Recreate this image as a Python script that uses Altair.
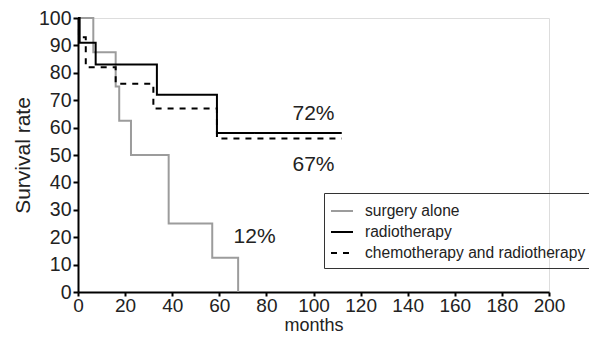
import altair as alt
import pandas as pd

groups = ["surgery alone", "radiotherapy", "chemotherapy and radiotherapy"]

surgery_t = [0, 6.5, 16, 17.5, 22.5, 38.5, 57, 68, 68]
surgery_v = [100, 87.5, 75, 62.5, 50, 25, 12.5, 12.5, 0]

radio_t = [0, 0.7, 7.5, 33.5, 59, 112]
radio_v = [100, 91, 83, 72, 58, 58]

chemo_t = [0, 0.4, 3.3, 16, 32, 59, 112]
chemo_v = [100, 93, 82, 76, 67, 56, 56]

label_text = ["72%", "67%", "12%"]
label_x = [100, 100, 75]
label_y = [65, 46.5, 20]

x_ticks = list(range(0, 201, 20))
y_ticks = list(range(0, 101, 10))

rows = []
for g, ts, vs in zip(groups, [surgery_t, radio_t, chemo_t], [surgery_v, radio_v, chemo_v]):
    for i, (t, v) in enumerate(zip(ts, vs)):
        rows.append({"group": g, "months": t, "rate": v, "idx": i})
df = pd.DataFrame(rows)
lab = pd.DataFrame({"text": label_text, "x": label_x, "y": label_y})

FONT = "Liberation Sans"

xscale = alt.Scale(domain=[0, 200], nice=False, zero=False)
yscale = alt.Scale(domain=[0, 100], nice=False)

x_axis = alt.Axis(title="months", values=x_ticks, grid=False,
                  domainColor="black", domainWidth=2, tickColor="black", tickWidth=2,
                  tickSize=4, labelFontSize=19, labelFont=FONT, labelColor="#222",
                  titleFont=FONT, titleFontSize=18, titleFontWeight="normal",
                  titleColor="#222", labelPadding=0, titlePadding=1,
                  labelFlush=False, labelOverlap=False)
y_axis = alt.Axis(title="Survival rate", values=y_ticks, grid=False,
                  domainColor="black", domainWidth=2, tickColor="black", tickWidth=2,
                  tickSize=5, labelFontSize=19.5, labelFont=FONT, labelColor="#222",
                  titleFont=FONT, titleFontSize=21, titleFontWeight="normal",
                  titleColor="#222", labelPadding=2, titlePadding=5,
                  labelFlush=False, labelOverlap=False)

legend = alt.Legend(title=None, orient="none", legendX=246, legendY=175,
                    symbolType="stroke", symbolSize=484, symbolStrokeWidth=2,
                    labelFont=FONT, labelFontSize=15.6, labelColor="#222",
                    strokeColor="#333", padding=6, rowPadding=-4,
                    labelOffset=11, labelLimit=400)

lines = alt.Chart(df).mark_line(interpolate="step-after", strokeWidth=2).encode(
    x=alt.X("months:Q", scale=xscale, axis=x_axis),
    y=alt.Y("rate:Q", scale=yscale, axis=y_axis),
    color=alt.Color("group:N", scale=alt.Scale(domain=groups, range=["#9c9c9c", "#000000", "#000000"]),
                    legend=legend),
    strokeDash=alt.StrokeDash("group:N", scale=alt.Scale(domain=groups, range=[[1, 0], [1, 0], [6, 6]]),
                              legend=legend),
    order="idx:Q",
)

texts = alt.Chart(lab).mark_text(font=FONT, fontSize=21, color="#222").encode(
    x=alt.X("x:Q", scale=xscale, axis=x_axis),
    y=alt.Y("y:Q", scale=yscale, axis=y_axis),
    text="text:N",
)

chart = alt.layer(lines, texts).properties(
    width=471, height=274,
    autosize=alt.AutoSizeParams(type="none"),
    padding={"left": 70, "top": 10, "right": 40, "bottom": 43},
).configure_view(stroke=None).configure(background="white")

chart.save("out.html", embed_options={"renderer": "svg", "actions": False})
